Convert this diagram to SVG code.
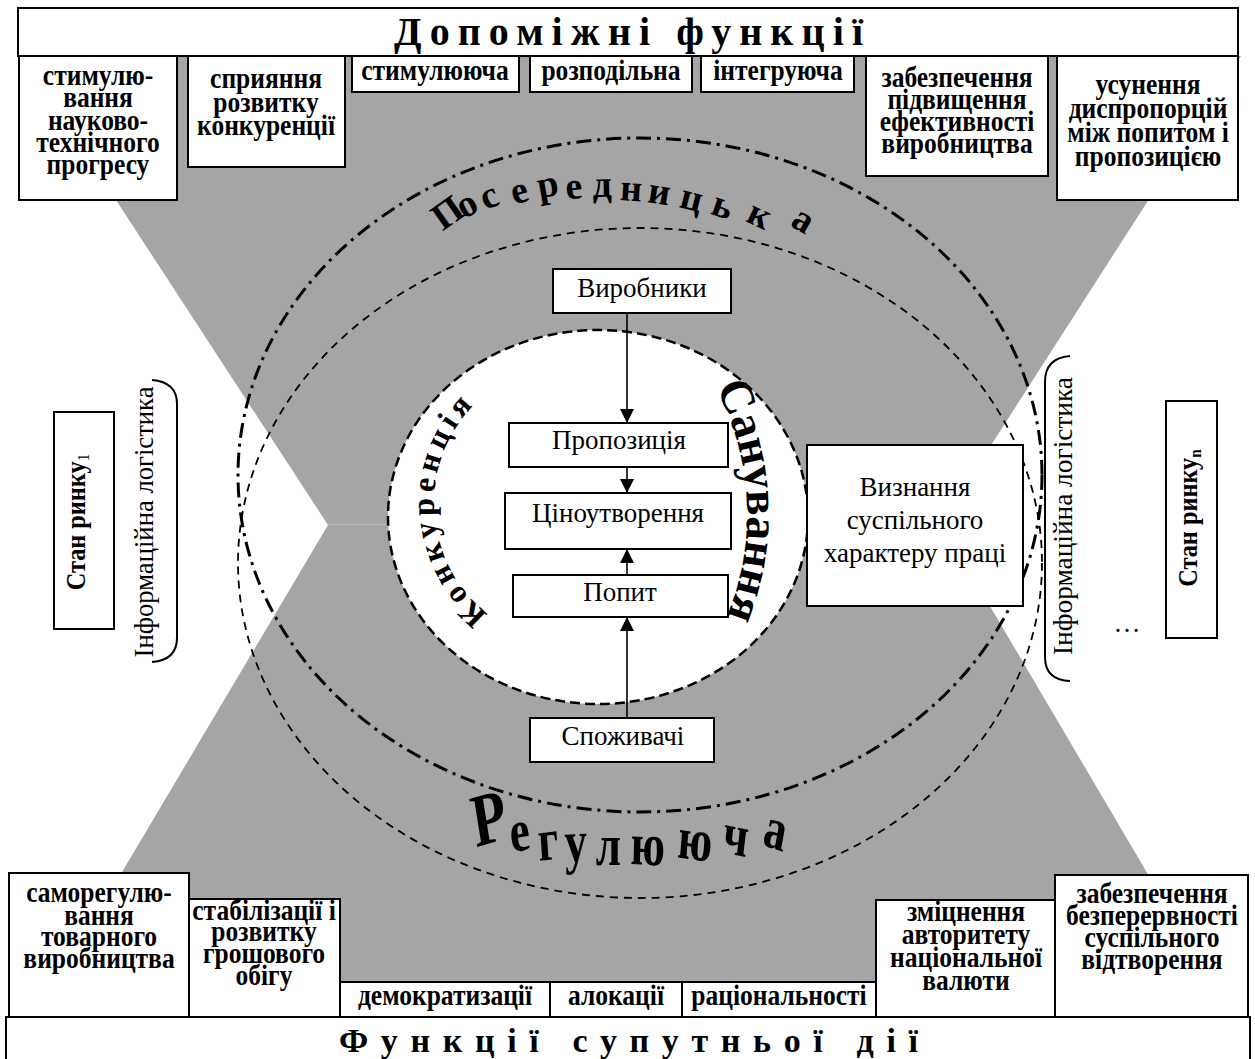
<svg xmlns="http://www.w3.org/2000/svg" width="1255" height="1059" viewBox="0 0 1255 1059">
<defs>
<style>
.frame{fill:#fff;stroke:#000;stroke-width:2}
.field{fill:#a5a5a5}
.seam{stroke:#b9b9b9;stroke-width:1}
.bt{font-family:'Liberation Serif','Times New Roman',serif;font-weight:bold;font-size:29px;text-anchor:middle;fill:#000}
.rt{font-family:'Liberation Serif','Times New Roman',serif;font-size:27px;text-anchor:middle;fill:#000}
.title{font-family:'Liberation Serif','Times New Roman',serif;font-weight:bold;fill:#000}
.arc{font-family:'Liberation Serif','Times New Roman',serif;font-weight:bold;fill:#000}
.link{stroke:#000;stroke-width:1.6;fill:none}
.brace{stroke:#000;stroke-width:2;fill:none}
.ring-outer{fill:none;stroke:#000;stroke-width:3;stroke-dasharray:15 6 3 6}
.ring-inner{fill:none;stroke:#000;stroke-width:1.8;stroke-dasharray:8 6}
.core{fill:#fff;stroke:#000;stroke-width:2.5;stroke-dasharray:10 5}
</style>
<marker id="head" viewBox="0 0 10 10" refX="10" refY="5" markerWidth="14" markerHeight="14" markerUnits="userSpaceOnUse" orient="auto">
<path d="M0,0 L10,5 L0,10 z" fill="#000"/>
</marker>
<path id="arcKonk" d="M 488.2,614.1 A 141 141 0 0 1 494.1,387.5"/>
<path id="arcSank" d="M 714.2,385 A 270 270 0 0 1 713.1,645"/>
</defs>

<!-- grey hourglass field behind the market rings -->
<g id="field">
<polygon class="field" points="22,56 1241,56 941,523 1232,1017 36,1017 328,525"/>
<line class="seam" x1="328" y1="524.5" x2="941" y2="523.5"/>
</g>

<!-- market rings -->
<g id="rings">
<ellipse class="ring-outer" cx="640" cy="475" rx="402" ry="337"/>
<ellipse class="ring-inner" cx="640" cy="563" rx="402" ry="335"/>
<ellipse class="core" cx="598" cy="517" rx="210" ry="187"/>
</g>

<!-- curved ring labels -->
<g id="ring-labels">
<text class="arc" font-size="38" x="442.4 463.7 485.4 514.2 539.2 566.5 592.7 619.4 646.8 678.2 709.6 744.7 789.3" y="231.6 219.2 210.3 204.8 198.3 199.6 196.9 200.0 202.1 207.1 213.4 220.9 225.3" rotate="-35 -28 -22 -16 -10 -6 -1 4 9 14 19 25 30">Посередницька</text>
<g transform="scale(0.75 1)">
<text class="arc" font-size="60"><tspan font-size="75" x="634.7" y="847.2" rotate="-12">Р</tspan><tspan x="682.0 718.6 753.5 794.2 840.5 902.4 961.6 1015.4" y="852.5 860.9 862.3 864.8 864.0 857.3 852.1 844.8" rotate="-8 -5 -2 0 2 6 9 14">егулююча</tspan></text>
</g>
<text class="arc" font-size="32" letter-spacing="5"><textPath href="#arcKonk">Конкуренція</textPath></text>
<text class="arc" font-size="47"><textPath href="#arcSank" startOffset="3">Санування</textPath></text>
</g>

<!-- connectors -->
<g id="connectors">
<line class="link" x1="627" y1="313" x2="627" y2="423" marker-end="url(#head)"/>
<line class="link" x1="627" y1="467" x2="627" y2="493" marker-end="url(#head)"/>
<line class="link" x1="627" y1="575" x2="627" y2="549" marker-end="url(#head)"/>
<line class="link" x1="627" y1="718" x2="627" y2="617" marker-end="url(#head)"/>
</g>

<!-- core nodes -->
<g id="producers"><rect class="frame" x="553" y="269" width="178" height="44"/><text class="rt" x="642" y="297">Виробники</text></g>
<g id="supply"><rect class="frame" x="509" y="423" width="219" height="44"/><text class="rt" x="619" y="449">Пропозиція</text></g>
<g id="pricing"><rect class="frame" x="505" y="493" width="226" height="56"/><text class="rt" x="618" y="522">Ціноутворення</text></g>
<g id="demand"><rect class="frame" x="513" y="575" width="215" height="42"/><text class="rt" x="620" y="601">Попит</text></g>
<g id="consumers"><rect class="frame" x="530" y="718" width="184" height="44"/><text class="rt" x="623" y="745">Споживачі</text></g>
<g id="recognition"><rect class="frame" x="807" y="445" width="216" height="161"/>
<text class="rt"><tspan x="915" y="496">Визнання</tspan><tspan x="915" y="529">суспільного</tspan><tspan x="915" y="562">характеру праці</tspan></text></g>

<!-- market states and logistics braces -->
<g id="state-1"><rect class="frame" x="54" y="412" width="60" height="217"/>
<g transform="translate(85 522) rotate(-90) scale(0.9 1)"><text class="title" font-size="27" text-anchor="middle">Стан ринку<tspan font-size="17" font-weight="normal" dy="4">1</tspan></text></g></g>
<g id="state-n"><rect class="frame" x="1166" y="401" width="51" height="237"/>
<g transform="translate(1197 518) rotate(-90) scale(0.9 1)"><text class="title" font-size="27" text-anchor="middle">Стан ринку<tspan font-size="17" dy="4">n</tspan></text></g></g>
<g id="logistics-left"><path class="brace" d="M152,380 Q177,382 177,404 L177,638 Q177,660 152,662"/>
<text class="rt" font-size="29" transform="translate(153 522) rotate(-90)" textLength="271" lengthAdjust="spacingAndGlyphs">Інформаційна логістика</text></g>
<g id="logistics-right"><path class="brace" d="M1070,356 Q1045,358 1045,382 L1045,657 Q1045,680 1070,681"/>
<text class="rt" font-size="29" transform="translate(1072 516) rotate(-90)" textLength="278" lengthAdjust="spacingAndGlyphs">Інформаційна логістика</text></g>
<text id="ellipsis" class="rt" font-size="24" x="1127" y="632">…</text>

<!-- auxiliary functions -->
<g id="aux-title"><rect class="frame" x="18" y="8" width="1220" height="48"/>
<text class="title" font-size="40" x="394" y="45" textLength="469" lengthAdjust="spacing">Допоміжні функції</text></g>
<g id="aux-ntp"><rect class="frame" x="19" y="56" width="158" height="144"/>
<g transform="translate(98 0) scale(0.88 1)"><text class="bt"><tspan x="0" y="85">стимулю-</tspan><tspan x="0" y="107">вання</tspan><tspan x="0" y="130">науково-</tspan><tspan x="0" y="152">технічного</tspan><tspan x="0" y="174">прогресу</tspan></text></g></g>
<g id="aux-competition"><rect class="frame" x="188" y="56" width="157" height="111"/>
<g transform="translate(266 0) scale(0.88 1)"><text class="bt"><tspan x="0" y="88">сприяння</tspan><tspan x="0" y="112">розвитку</tspan><tspan x="0" y="135">конкуренції</tspan></text></g></g>
<g id="aux-stimulating"><rect class="frame" x="352" y="56" width="167" height="36"/>
<g transform="translate(435 0) scale(0.88 1)"><text class="bt" x="0" y="80">стимулююча</text></g></g>
<g id="aux-distributive"><rect class="frame" x="530" y="56" width="162" height="36"/>
<g transform="translate(611 0) scale(0.88 1)"><text class="bt" x="0" y="80">розподільна</text></g></g>
<g id="aux-integrating"><rect class="frame" x="701" y="56" width="153" height="36"/>
<g transform="translate(778 0) scale(0.88 1)"><text class="bt" x="0" y="80">інтегруюча</text></g></g>
<g id="aux-efficiency"><rect class="frame" x="866" y="56" width="182" height="120"/>
<g transform="translate(957 0) scale(0.88 1)"><text class="bt"><tspan x="0" y="87">забезпечення</tspan><tspan x="0" y="109">підвищення</tspan><tspan x="0" y="131">ефективності</tspan><tspan x="0" y="153">виробництва</tspan></text></g></g>
<g id="aux-balance"><rect class="frame" x="1057" y="56" width="181" height="144"/>
<g transform="translate(1148 0) scale(0.88 1)"><text class="bt"><tspan x="0" y="94">усунення</tspan><tspan x="0" y="118">диспропорцій</tspan><tspan x="0" y="142">між попитом і</tspan><tspan x="0" y="166">пропозицією</tspan></text></g></g>

<!-- accompanying functions -->
<g id="acc-title"><rect class="frame" x="6" y="1017" width="1244" height="50"/>
<text class="title" font-size="34" x="339" y="1052" textLength="579" lengthAdjust="spacing">Функції супутньої дії</text></g>
<g id="acc-selfreg"><rect class="frame" x="9" y="873" width="180" height="144"/>
<g transform="translate(99 0) scale(0.88 1)"><text class="bt"><tspan x="0" y="902">саморегулю-</tspan><tspan x="0" y="925">вання</tspan><tspan x="0" y="946">товарного</tspan><tspan x="0" y="968">виробництва</tspan></text></g></g>
<g id="acc-money"><rect class="frame" x="189" y="899" width="151" height="118"/>
<g transform="translate(264 0) scale(0.88 1)"><text class="bt"><tspan x="0" y="920">стабілізації і</tspan><tspan x="0" y="941">розвитку</tspan><tspan x="0" y="963">грошового</tspan><tspan x="0" y="985">обігу</tspan></text></g></g>
<g id="acc-democracy"><rect class="frame" x="340" y="982" width="210" height="35"/>
<g transform="translate(445 0) scale(0.88 1)"><text class="bt" x="0" y="1005">демократизації</text></g></g>
<g id="acc-allocation"><rect class="frame" x="550" y="982" width="132" height="35"/>
<g transform="translate(616 0) scale(0.88 1)"><text class="bt" x="0" y="1005">алокації</text></g></g>
<g id="acc-rationality"><rect class="frame" x="682" y="982" width="194" height="35"/>
<g transform="translate(779 0) scale(0.88 1)"><text class="bt" x="0" y="1005">раціональності</text></g></g>
<g id="acc-currency"><rect class="frame" x="876" y="900" width="179" height="117"/>
<g transform="translate(966 0) scale(0.88 1)"><text class="bt"><tspan x="0" y="921">зміцнення</tspan><tspan x="0" y="944">авторитету</tspan><tspan x="0" y="967">національної</tspan><tspan x="0" y="990">валюти</tspan></text></g></g>
<g id="acc-continuity"><rect class="frame" x="1055" y="875" width="193" height="142"/>
<g transform="translate(1152 0) scale(0.88 1)"><text class="bt"><tspan x="0" y="903">забезпечення</tspan><tspan x="0" y="925">безперервності</tspan><tspan x="0" y="947">суспільного</tspan><tspan x="0" y="969">відтворення</tspan></text></g></g>
</svg>
